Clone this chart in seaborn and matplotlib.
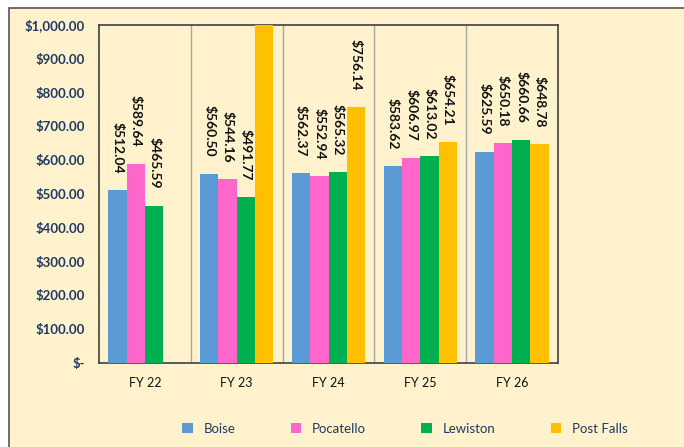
import matplotlib
matplotlib.use("Agg")
import matplotlib.pyplot as plt
import matplotlib.patches as mpatches
from matplotlib.ticker import FuncFormatter, MultipleLocator
import seaborn as sns
import pandas as pd
import numpy as np

# --- data ---
years = ["FY 22", "FY 23", "FY 24", "FY 25", "FY 26"]
cities = ["Boise", "Pocatello", "Lewiston", "Post Falls"]
boise = [512.04, 560.50, 562.37, 583.62, 625.59]
pocatello = [589.64, 544.16, 552.94, 606.97, 650.18]
lewiston = [465.59, 491.77, 565.32, 613.02, 660.66]
post_falls = [np.nan, 1000.00, 756.14, 654.21, 648.78]

colors = ["#5B9BD5", "#FF66CC", "#00B050", "#FFC000"]
cream = "#FFF2CC"

rows = []
for city, vals in zip(cities, [boise, pocatello, lewiston, post_falls]):
    for yr, v in zip(years, vals):
        rows.append({"Year": yr, "City": city, "Cost": v})
df = pd.DataFrame(rows)

sns.set_style("white")
plt.rcParams["font.family"] = ["Lato", "DejaVu Sans"]

fig = plt.figure(figsize=(6.84, 4.47), dpi=100)
fig.patch.set_facecolor("white")
# cream chart box with a dark border (top/left visible in the reference)
fig.patches.append(mpatches.Rectangle((9 / 684, -0.05), 1.0, 1 - 8 / 447 + 0.05,
                                      transform=fig.transFigure, facecolor=cream,
                                      edgecolor="#555555", linewidth=1.2, zorder=-10))

ax = fig.add_axes([99 / 684, 1 - 363 / 447, (558 - 99) / 684, (363 - 25) / 447])
ax.set_facecolor(cream)

sns.barplot(data=df, x="Year", y="Cost", hue="City", palette=colors,
            width=0.8, saturation=1, linewidth=0, ax=ax, legend=True, zorder=3)

ax.set_ylim(0, 1000)
ax.set_xlim(-0.5, len(years) - 0.5)
ax.yaxis.set_major_locator(MultipleLocator(100))
ax.yaxis.set_major_formatter(FuncFormatter(lambda v, p: "$-" if v == 0 else f"${v:,.2f}"))

# vertical separators between categories
for b in np.arange(0.5, len(years) - 0.5, 1):
    ax.axvline(b, color="#A6A6A6", linewidth=1, zorder=1)

for s in ax.spines.values():
    s.set_color("#404040")
    s.set_linewidth(1.2)

ax.set_xlabel("")
ax.set_ylabel("")
ax.tick_params(axis="y", length=4, width=1, color="#404040", direction="out",
               labelsize=9.5, labelcolor="#1F3864", pad=6)
for t in ax.get_yticklabels():
    t.set_fontweight("bold")
ax.tick_params(axis="x", length=0, labelsize=9, labelcolor="#111111", pad=10)
# x ticks at category boundaries
ax.set_xticks(np.arange(-0.5, len(years), 1), minor=True)
ax.tick_params(axis="x", which="minor", length=5, color="#808080")

# data labels, rotated, above each bar (skip the clipped one)
for container in ax.containers:
    labels = []
    for bar in container:
        h = bar.get_height()
        if np.isnan(h) or h >= 1000:
            labels.append("")
        else:
            labels.append(f"${h:,.2f}")
    ax.bar_label(container, labels=labels, rotation=270, padding=12,
                 fontsize=10, fontweight="bold", color="#111111")

handles, labs = ax.get_legend_handles_labels()
ax.get_legend().remove()
leg = fig.legend(handles, labs, loc="center", bbox_to_anchor=(0.592, 1 - 429 / 447),
                 ncol=4, frameon=False, fontsize=9.5, handlelength=0.8, handleheight=0.8,
                 columnspacing=4.2, handletextpad=0.8)
for t in leg.get_texts():
    t.set_color("#1F3864")

fig.savefig("out.png", dpi=100, facecolor=fig.get_facecolor())
